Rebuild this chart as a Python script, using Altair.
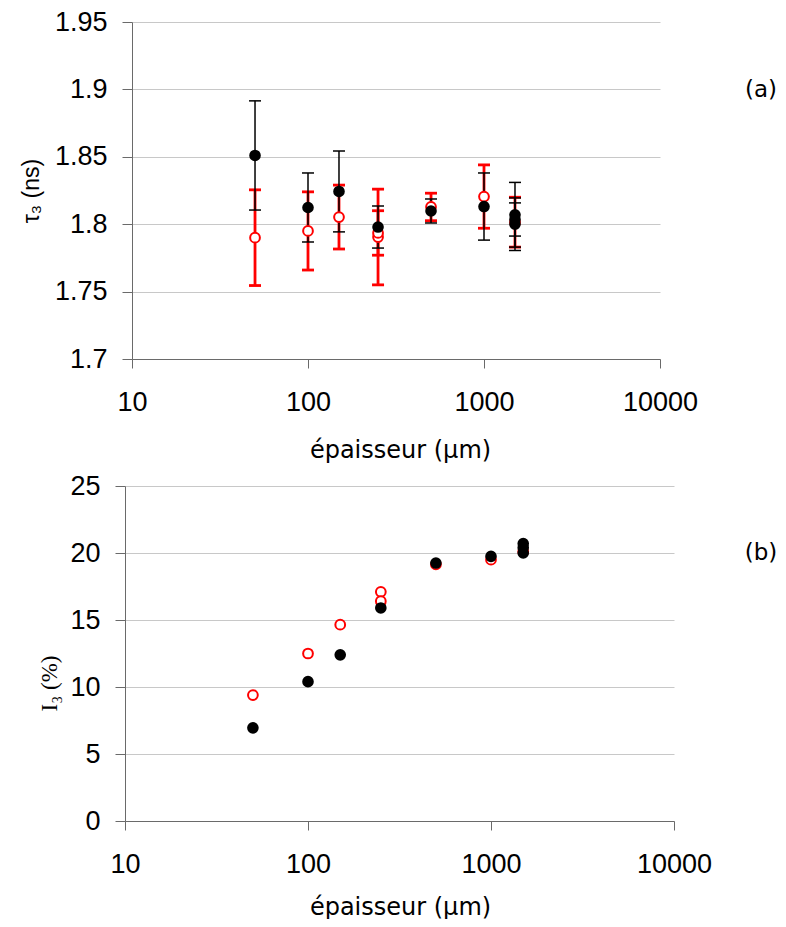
import altair as alt
import pandas as pd

# ---------------- data ----------------
x_ticks = [10, 100, 1000, 10000]
a_ticks = [1.7, 1.75, 1.8, 1.85, 1.9, 1.95]
b_ticks = [0, 5, 10, 15, 20, 25]

# panel (a): tau3 (ns) with error bars
a_black_x = [50, 100, 150, 250, 500, 1000, 1500, 1500, 1500]
a_black_tau = [1.851, 1.8124, 1.8243, 1.7979, 1.8098, 1.8131, 1.807, 1.8035, 1.800]
a_black_err = [0.0405, 0.0256, 0.030, 0.0156, 0.0089, 0.0249, 0.024, 0.0123, 0.0195]
a_red_x = [50, 100, 150, 250, 250, 500, 1000, 1500]
a_red_tau = [1.790, 1.795, 1.8053, 1.7905, 1.7935, 1.8128, 1.8205, 1.8015]
a_red_err = [0.0355, 0.029, 0.0237, 0.0355, 0.0165, 0.0102, 0.0235, 0.0185]

# panel (b): I3 (%)
b_black_x = [50, 100, 150, 250, 500, 1000, 1500, 1500, 1500]
b_black_I = [6.95, 10.4, 12.4, 15.9, 19.25, 19.75, 20.7, 20.4, 20.0]
b_red_x = [50, 100, 150, 250, 250, 500, 1000, 1500]
b_red_I = [9.4, 12.5, 14.65, 17.1, 16.4, 19.15, 19.5, 20.1]

AX = "#6a6a6a"
GRID = "#c8c8c8"
LABFONT = "Liberation Sans"


def xaxis(tx, ty):
    return alt.Axis(values=x_ticks, format="d", grid=False, labelFlush=False, labelOverlap=False,
                    domainColor=AX, tickColor=AX, tickSize=9, domainWidth=1, tickWidth=1,
                    labelFont=LABFONT, labelFontSize=27, labelColor="black",
                    labelBaseline="middle", labelPadding=34,
                    title="épaisseur (μm)", titleFont="DejaVu Sans", titleFontSize=24,
                    titleFontWeight="normal", titleColor="black", titleX=tx, titleY=ty,
                    titleAlign="center", titleBaseline="middle")


def yaxis(vals, title, font, tx, ty, off=0):
    return alt.Axis(values=vals, format="~g", grid=True, gridColor=GRID, gridWidth=1,
                    domainColor=AX, tickColor=AX, tickSize=10, domainWidth=1, tickWidth=1,
                    labelFont=LABFONT, labelFontSize=27, labelPadding=15, labelColor="black",
                    title=title, titleFont=font, titleFontSize=23, titleFontWeight="normal",
                    titleColor="black", titleAngle=270, titleX=tx, titleY=ty,
                    titleAlign="center", titleBaseline="middle", offset=off)


def err_frames(xs, ys, es):
    d = pd.DataFrame({"x": xs, "y": ys, "e": es})
    d["lo"] = d["y"] - d["e"]
    d["hi"] = d["y"] + d["e"]
    caps = pd.concat([pd.DataFrame({"x": d["x"], "y": d["lo"]}),
                      pd.DataFrame({"x": d["x"], "y": d["hi"]})], ignore_index=True)
    return d, caps


# ---------------- panel (a) ----------------
# plot group starts 7px left of the (a) axis so that both panels share a left edge
xs_a = alt.Scale(type="log", domain=[10, 10000], nice=False, range=[7, 535])
ys_a = alt.Scale(domain=[1.7, 1.95], nice=False, zero=False)
xa = xaxis(275, 91)
ya = yaxis(a_ticks, "τ₃ (ns)", LABFONT, -101, 168.5, off=-7)

ab, ab_caps = err_frames(a_black_x, a_black_tau, a_black_err)
ar, ar_caps = err_frames(a_red_x, a_red_tau, a_red_err)

X_a = alt.X("x:Q", scale=xs_a, axis=xa)


def Y_a(f):
    return alt.Y(f + ":Q", scale=ys_a, axis=ya)


red_rules = alt.Chart(ar).mark_rule(color="red", strokeWidth=2.8).encode(
    x=X_a, y=Y_a("lo"), y2="hi:Q")
red_caps = alt.Chart(ar_caps).mark_tick(orient="horizontal", size=12, thickness=2.8,
                                        color="red", opacity=1).encode(x=X_a, y=Y_a("y"))
blk_rules = alt.Chart(ab).mark_rule(color="black", strokeWidth=1.5).encode(
    x=X_a, y=Y_a("lo"), y2="hi:Q")
blk_caps = alt.Chart(ab_caps).mark_tick(orient="horizontal", size=12, thickness=1.5,
                                        color="black", opacity=1).encode(x=X_a, y=Y_a("y"))
red_pts_a = alt.Chart(ar).mark_circle(fill="white", stroke="red", strokeWidth=2, size=95,
                                      opacity=1).encode(x=X_a, y=Y_a("y"))
blk_pts_a = alt.Chart(ab).mark_circle(color="black", size=135, opacity=1).encode(
    x=X_a, y=Y_a("y"))
lab_a = alt.Chart(pd.DataFrame({"t": ["(a)"]})).mark_text(
    font="DejaVu Sans", fontSize=23, align="center", baseline="middle", color="black"
).encode(text="t:N", x=alt.value(636), y=alt.value(68))

top = alt.layer(red_rules, red_caps, blk_rules, blk_caps, red_pts_a, blk_pts_a, lab_a).properties(
    width=535, height=337)

# ---------------- panel (b) ----------------
xs_b = alt.Scale(type="log", domain=[10, 10000], nice=False)
ys_b = alt.Scale(domain=[0, 25], nice=False)
xb = xaxis(275, 86)
yb = yaxis(b_ticks, "I₃ (%)", "Liberation Serif", -76, 197)

bb = pd.DataFrame({"x": b_black_x, "y": b_black_I})
br = pd.DataFrame({"x": b_red_x, "y": b_red_I})
X_b = alt.X("x:Q", scale=xs_b, axis=xb)
Y_b = alt.Y("y:Q", scale=ys_b, axis=yb)

red_pts_b = alt.Chart(br).mark_circle(fill="white", stroke="red", strokeWidth=2, size=95,
                                      opacity=1).encode(x=X_b, y=Y_b)
blk_pts_b = alt.Chart(bb).mark_circle(color="black", size=135, opacity=1).encode(x=X_b, y=Y_b)
lab_b = alt.Chart(pd.DataFrame({"t": ["(b)"]})).mark_text(
    font="DejaVu Sans", fontSize=23, align="center", baseline="middle", color="black"
).encode(text="t:N", x=alt.value(636), y=alt.value(67))

bot = alt.layer(red_pts_b, blk_pts_b, lab_b).properties(width=549, height=335)

chart = alt.concat(top, bot, columns=1, spacing=127, bounds="flush", align="none").properties(
    autosize=alt.AutoSizeParams(type="none"),
    padding={"left": 117, "top": 14, "right": 653, "bottom": 897}
).configure_view(stroke=None)

chart.save("out.html", embed_options={"renderer": "svg", "actions": False})
